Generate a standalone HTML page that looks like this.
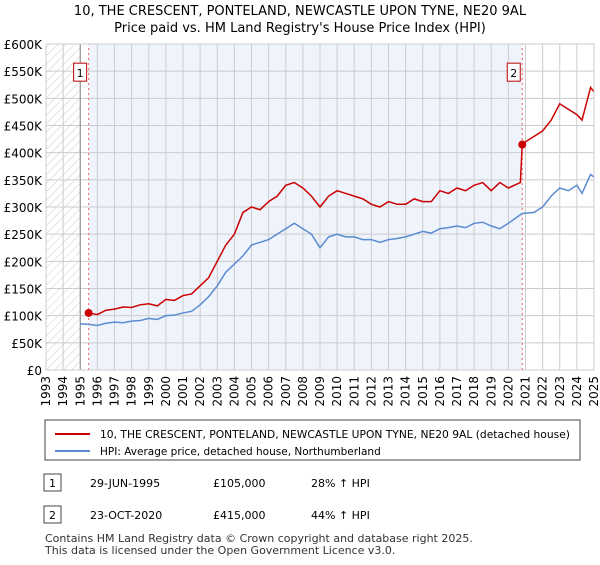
<!DOCTYPE html>
<html><head><meta charset="utf-8"><style>
body{margin:0;background:#fff;font-family:"Liberation Sans","DejaVu Sans",sans-serif;}
svg text{font-family:"DejaVu Sans","Liberation Sans",sans-serif;}
</style></head><body>
<svg id="c" width="600" height="560" xmlns="http://www.w3.org/2000/svg">
<defs><pattern id="h" width="6" height="6" patternUnits="userSpaceOnUse" patternTransform="rotate(45)"><line x1="0" y1="0" x2="0" y2="6" stroke="#ccc" stroke-width="1"/></pattern></defs>
<text x="300" y="15" text-anchor="middle" font-size="13">10, THE CRESCENT, PONTELAND, NEWCASTLE UPON TYNE, NE20 9AL</text>
<text x="300" y="32" text-anchor="middle" font-size="13">Price paid vs. HM Land Registry's House Price Index (HPI)</text>
<g id="plot"></g>
<rect x="45" y="420" width="535" height="40" fill="#fff" stroke="#444"/>
<line x1="55" y1="434" x2="90" y2="434" stroke="#cc0000" stroke-width="2"/>
<text x="100" y="438" font-size="10.5" textLength="470" lengthAdjust="spacingAndGlyphs">10, THE CRESCENT, PONTELAND, NEWCASTLE UPON TYNE, NE20 9AL (detached house)</text>
<line x1="55" y1="451" x2="90" y2="451" stroke="#5b8bd0" stroke-width="2"/>
<text x="100" y="455" font-size="10.5">HPI: Average price, detached house, Northumberland</text>
<g>
<rect x="44" y="474" width="17" height="17" fill="#fff" stroke="#444"/><text x="52.5" y="487" text-anchor="middle" font-size="11">1</text>
<text x="90" y="487" font-size="11">29-JUN-1995</text><text x="213" y="487" font-size="11">£105,000</text><text x="311" y="487" font-size="11">28% ↑ HPI</text></g>
<g>
<rect x="44" y="506" width="17" height="17" fill="#fff" stroke="#444"/><text x="52.5" y="519" text-anchor="middle" font-size="11">2</text>
<text x="90" y="519" font-size="11">23-OCT-2020</text><text x="213" y="519" font-size="11">£415,000</text><text x="311" y="519" font-size="11">44% ↑ HPI</text></g>
<text x="45" y="542" font-size="11" fill="#333">Contains HM Land Registry data © Crown copyright and database right 2025.</text>
<text x="45" y="554" font-size="11" fill="#333">This data is licensed under the Open Government Licence v3.0.</text>
</svg>
<script>
const yTicks=[0,50,100,150,200,250,300,350,400,450,500,550,600];
const years=[1993,1994,1995,1996,1997,1998,1999,2000,2001,2002,2003,2004,2005,2006,2007,2008,2009,2010,2011,2012,2013,2014,2015,2016,2017,2018,2019,2020,2021,2022,2023,2024,2025];
const saleDates=[1995.49,2020.81];
const salePrices=[105,415];
const redT=[1995.49,1996,1996.5,1997,1997.5,1998,1998.5,1999,1999.5,2000,2000.5,2001,2001.5,2002,2002.5,2003,2003.5,2004,2004.5,2005,2005.5,2006,2006.5,2007,2007.5,2008,2008.5,2009,2009.5,2010,2010.5,2011,2011.5,2012,2012.5,2013,2013.5,2014,2014.5,2015,2015.5,2016,2016.5,2017,2017.5,2018,2018.5,2019,2019.5,2020,2020.7,2020.81,2021,2021.5,2022,2022.5,2023,2023.5,2024,2024.3,2024.8,2025];
const redV=[105,102,110,112,116,115,120,122,118,130,128,137,140,155,170,200,230,250,290,300,295,310,320,340,345,335,320,300,320,330,325,320,315,305,300,310,305,305,315,310,310,330,325,335,330,340,345,330,345,335,345,415,420,430,440,460,490,480,470,460,520,512];
const hpiT=[1995,1995.5,1996,1996.5,1997,1997.5,1998,1998.5,1999,1999.5,2000,2000.5,2001,2001.5,2002,2002.5,2003,2003.5,2004,2004.5,2005,2005.5,2006,2006.5,2007,2007.5,2008,2008.5,2009,2009.5,2010,2010.5,2011,2011.5,2012,2012.5,2013,2013.5,2014,2014.5,2015,2015.5,2016,2016.5,2017,2017.5,2018,2018.5,2019,2019.5,2020,2020.8,2021.5,2022,2022.5,2023,2023.5,2024,2024.3,2024.8,2025];
const hpiV=[85,84,82,86,88,87,90,91,95,93,100,101,105,108,120,135,155,180,195,210,230,235,240,250,260,270,260,250,225,245,250,245,245,240,240,235,240,242,245,250,255,252,260,262,265,262,270,272,265,260,270,288,290,300,320,335,330,340,325,360,355];
const X=t=>46+(t-1993)*(548/32), Y=v=>370-v*(326/600);
const ns="http://www.w3.org/2000/svg", g=document.getElementById('plot');
function mk(tag,a,p){const e=document.createElementNS(ns,tag);for(const k in a)e.setAttribute(k,a[k]);(p||g).appendChild(e);return e;}
const bg=mk('rect',{x:X(saleDates[0]),y:Y(600),width:X(saleDates[1])-X(saleDates[0]),height:Y(0)-Y(600),fill:'#eef3fc'});


const hat=mk('rect',{x:X(1993),y:Y(600),width:X(1995)-X(1993),height:Y(0)-Y(600),fill:'url(#h)'});


yTicks.forEach(v=>{const l=mk('line',{x1:X(1993),x2:X(2025),y1:Y(v),y2:Y(v),stroke:'#ccc'});


const t=mk('text',{x:42,y:Y(v)+5,'text-anchor':'end','font-size':'12'});t.textContent='£'+(v?v+'K':'0');

});
years.forEach(y=>{const l=mk('line',{x1:X(y),x2:X(y),y1:Y(0),y2:Y(600),stroke:'#ccc'});


const wrap=mk('g',{transform:'translate('+(X(y)+4)+',376) rotate(-90)'});
const t=mk('text',{x:0,y:0,'text-anchor':'end','font-size':'12'},wrap);t.textContent=y;

});
const ax=mk('line',{x1:X(1995),x2:X(1995),y1:Y(0),y2:Y(600),stroke:'#888'});


saleDates.forEach((d,i)=>{const l=mk('line',{x1:X(d),x2:X(d),y1:Y(0),y2:Y(600),stroke:'#e66','stroke-dasharray':'2,3'});


const r=mk('rect',{x:X(d)-15,y:Y(550)-8,width:13,height:18,fill:'#fff',stroke:'#b00'});


const t=mk('text',{x:X(d)-8.5,y:Y(550)+6,'text-anchor':'middle','font-size':'11'});t.textContent=i+1;

});
const hp=mk('polyline',{points:hpiT.map((t,i)=>X(t)+','+Y(hpiV[i])).join(' '),fill:'none',stroke:'#5b8bd0','stroke-width':1.5});


const rp=mk('polyline',{points:redT.map((t,i)=>X(t)+','+Y(redV[i])).join(' '),fill:'none',stroke:'#cc0000','stroke-width':1.5});


saleDates.forEach((d,i)=>{const c=mk('circle',{cx:X(d),cy:Y(salePrices[i]),r:4,fill:'#cc0000'});

});
const fr=mk('rect',{x:X(1993),y:Y(600),width:X(2025)-X(1993),height:Y(0)-Y(600),fill:'none',stroke:'#ccc'});


</script>
</body></html>
